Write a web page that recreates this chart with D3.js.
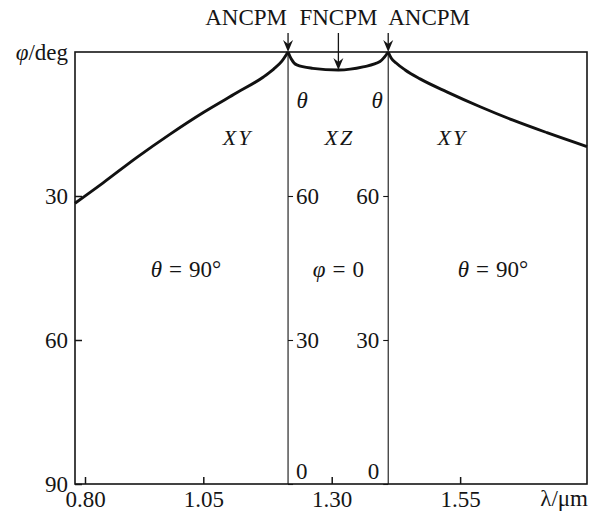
<!DOCTYPE html>
<html>
<head>
<meta charset="utf-8">
<script src="https://cdn.jsdelivr.net/npm/d3@7/dist/d3.min.js"></script>
<style>
  html, body { margin: 0; padding: 0; background: #fff; }
  svg { display: block; }
  text { font-family: "Liberation Serif", "Times New Roman", serif; fill: #151515; }
</style>
</head>
<body>
<svg id="chart" width="589" height="514"></svg>
<script>
// Wavelength ticks (µm) and angle ticks (deg)
const lambdaTicks = [0.80, 1.05, 1.30, 1.55];
const phiTicks = [30, 60, 90];
const thetaTicks = [0, 30, 60];

// Phase-matching boundaries between XY and XZ planes (µm)
const planeBoundaries = [1.215, 1.41];

// XY plane, short-wavelength side: phi (deg) versus lambda
const xyLeftLambda = [0.779, 0.839, 0.909, 0.980, 1.05, 1.115, 1.167, 1.187, 1.203, 1.215];
const xyLeftPhi    = [31.5, 27.2, 22.0, 17.1, 12.6, 8.5, 5.2, 3.55, 1.9, 0];

// XZ plane: theta (deg) versus lambda
const xzLambda = [1.215, 1.221, 1.232, 1.263, 1.313, 1.361, 1.394, 1.402, 1.41];
const xzTheta  = [90, 88.6, 87.3, 86.6, 86.25, 86.9, 88.0, 88.85, 90];

// XY plane, long-wavelength side: phi (deg) versus lambda
const xyRightLambda = [1.41, 1.4157, 1.4254, 1.443, 1.472, 1.524, 1.589, 1.653, 1.719, 1.797];
const xyRightPhi    = [0, 1.25, 2.3, 3.75, 5.6, 8.3, 11.4, 14.2, 16.8, 19.7];

// Non-critical phase-matching points marked above the frame
const npmLabels = ["ANCPM", "FNCPM", "ANCPM"];
const npmLambda = [1.215, 1.313, 1.41];

const regionNames = ["XY", "XZ", "XY"];
const regionLambda = [1.117, 1.315, 1.535];

const svg = d3.select("#chart");
const ink = "#151515";
const fontSize = 23;

const plotLeft = 75, plotRight = 587, plotTop = 52, plotBottom = 484;

// The printed wavelength axis is slightly compressed below 1.05 µm
const x = d3.scaleLinear()
  .domain([0.779, 0.80, 1.05, 1.797])
  .range([plotLeft, 85, 203.3, plotRight]);
const yPhi = d3.scaleLinear().domain([0, 90]).range([plotTop, plotBottom]);
const yTheta = d3.scaleLinear().domain([90, 0]).range([plotTop, plotBottom]);

// Frame
svg.append("rect")
  .attr("x", plotLeft).attr("y", plotTop)
  .attr("width", plotRight - plotLeft).attr("height", plotBottom - plotTop)
  .attr("fill", "none").attr("stroke", ink).attr("stroke-width", 1.6);

// Left phi axis with inward ticks
const gPhi = svg.append("g")
  .attr("transform", `translate(${plotLeft},0)`)
  .call(d3.axisLeft(yPhi).tickValues(phiTicks).tickSize(-7).tickPadding(7).tickFormat(d3.format("d")));
gPhi.select(".domain").remove();

// Bottom lambda axis with inward ticks
const gLam = svg.append("g")
  .attr("transform", `translate(0,${plotBottom})`)
  .call(d3.axisBottom(x).tickValues(lambdaTicks).tickSize(-7).tickPadding(7).tickFormat(d3.format(".2f")));
gLam.select(".domain").remove();

[gPhi, gLam].forEach(g => {
  g.selectAll(".tick line").attr("stroke", ink).attr("stroke-width", 1.5);
  g.selectAll("text").attr("font-size", fontSize).attr("fill", ink)
    .attr("font-family", "'Liberation Serif', serif");
});

// Plane boundaries, each carrying a theta scale facing the XZ region
planeBoundaries.forEach((lam, i) => {
  const bx = x(lam);
  svg.append("line")
    .attr("x1", bx).attr("x2", bx).attr("y1", plotTop).attr("y2", plotBottom)
    .attr("stroke", ink).attr("stroke-width", 1.1);
  const axis = (i === 0 ? d3.axisRight(yTheta).tickPadding(3) : d3.axisLeft(yTheta).tickPadding(4))
    .tickValues(thetaTicks).tickSize(5).tickFormat(d3.format("d"));
  const g = svg.append("g").attr("transform", `translate(${bx},0)`).call(axis);
  g.select(".domain").remove();
  g.selectAll(".tick line").attr("stroke", ink).attr("stroke-width", 1.1);
  g.selectAll("text").attr("font-size", fontSize).attr("fill", ink)
    .attr("font-family", "'Liberation Serif', serif");
  g.selectAll(".tick").filter(d => d === 0).select("text").attr("dy", "-6px");
  // theta axis name near the top
  svg.append("text")
    .attr("x", i === 0 ? bx + 14 : bx - 11)
    .attr("y", 108)
    .attr("text-anchor", "middle")
    .attr("font-size", fontSize).attr("font-style", "italic")
    .text("\u03B8");
});

// Phase-matching curves
const lineGen = d3.line().x(d => x(d[0])).y(d => d[1]).curve(d3.curveMonotoneX);
const segments = [
  xyLeftLambda.map((l, i) => [l, yPhi(xyLeftPhi[i])]),
  xzLambda.map((l, i) => [l, yTheta(xzTheta[i])]),
  xyRightLambda.map((l, i) => [l, yPhi(xyRightPhi[i])])
];
segments.forEach(seg => {
  svg.append("path")
    .attr("d", lineGen(seg))
    .attr("fill", "none").attr("stroke", "#111")
    .attr("stroke-width", 2.9).attr("stroke-linejoin", "round");
});

// Arrows and labels for the non-critical points
const fncpmTip = yTheta(d3.min(xzTheta));
npmLabels.forEach((name, i) => {
  const ax = x(npmLambda[i]);
  const tip = name === "FNCPM" ? fncpmTip : yPhi(0);
  svg.append("line")
    .attr("x1", ax).attr("x2", ax).attr("y1", 33).attr("y2", tip - 8)
    .attr("stroke", ink).attr("stroke-width", 1.3);
  svg.append("path")
    .attr("d", `M${ax},${tip} L${ax - 5},${tip - 12} L${ax},${tip - 8} L${ax + 5},${tip - 12} Z`)
    .attr("fill", ink);
  svg.append("text")
    .attr("x", i === 0 ? ax - 1 : ax)
    .attr("y", 25)
    .attr("text-anchor", i === 0 ? "end" : (i === 2 ? "start" : "middle"))
    .attr("font-size", fontSize)
    .text(name);
});

// Plane names
regionNames.forEach((name, i) => {
  svg.append("text")
    .attr("x", x(regionLambda[i])).attr("y", 145)
    .attr("text-anchor", "middle")
    .attr("font-size", 22).attr("font-style", "italic")
    .attr("letter-spacing", 2)
    .text(name);
});

// Plane conditions
function condition(cx, sym, rest) {
  const t = svg.append("text")
    .attr("x", cx).attr("y", 277)
    .attr("text-anchor", "middle").attr("font-size", fontSize);
  t.append("tspan").attr("font-style", "italic").text(sym);
  t.append("tspan").attr("dx", 7).text("=");
  t.append("tspan").attr("dx", 7).text(rest);
}
condition(x(1.0135), "\u03B8", "90\u00B0");
condition(x(1.313), "\u03C6", "0");
condition(x(1.614), "\u03B8", "90\u00B0");

// Axis names
const phiName = svg.append("text")
  .attr("x", 68).attr("y", 60).attr("text-anchor", "end").attr("font-size", fontSize);
phiName.append("tspan").attr("font-style", "italic").text("\u03C6");
phiName.append("tspan").text("/deg");

svg.append("text")
  .attr("x", 588).attr("y", 506).attr("text-anchor", "end").attr("font-size", fontSize)
  .text("\u03BB/\u03BCm");
</script>
</body>
</html>
